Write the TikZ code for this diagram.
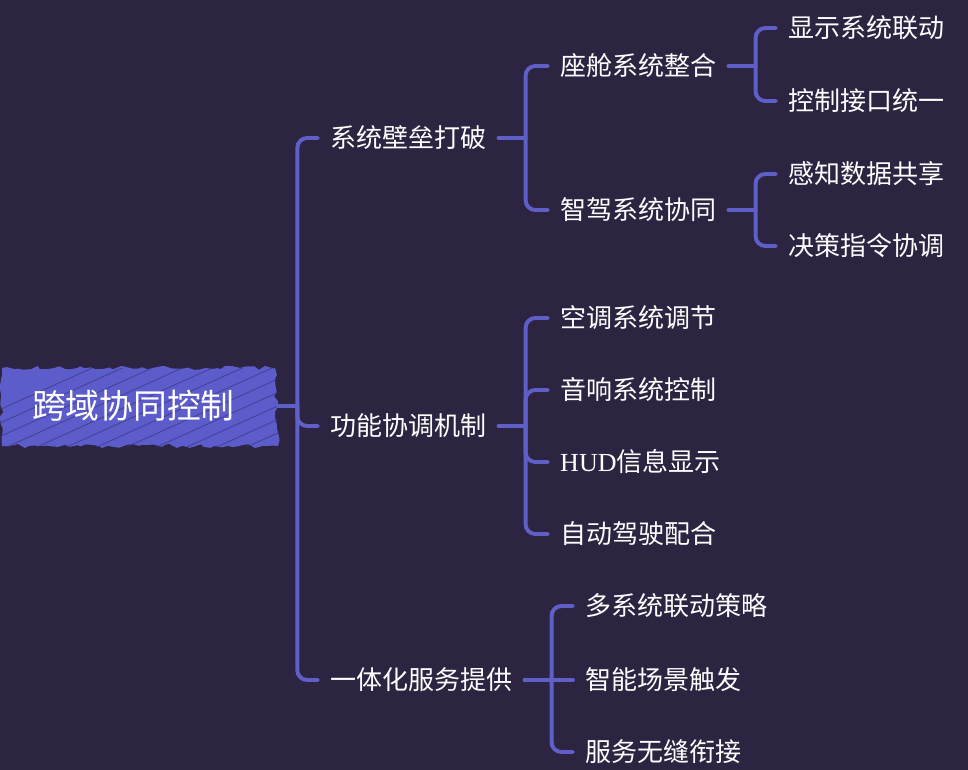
\documentclass[tikz,border=0pt]{standalone}
\usepackage{fontspec}
\setmainfont{Liberation Serif}
\newfontfamily\cjk{Noto Sans CJK SC}
\usepackage{tikz}
\usetikzlibrary{calc, backgrounds, decorations.pathmorphing}

\definecolor{bgpurple}{HTML}{2D2442}
\definecolor{linkblue}{HTML}{5F5FC8}
\definecolor{rootblue}{HTML}{5C5CCA}
\definecolor{hatchblue}{HTML}{3A3680}

\begin{document}
\begin{tikzpicture}[
			x=0.025cm, y=-0.025cm,
			topic/.style={anchor=west, inner xsep=8.5pt, inner ysep=2pt, text=white, font=\cjk\fontsize{18.5}{22}\selectfont},
			rootbox/.style={minimum width=6.95cm, minimum height=2.05cm, inner sep=0pt, text=white, font=\cjk\fontsize{24}{28}\selectfont},
			link/.style={draw=linkblue, line width=2.8pt, line cap=round},
			branch/.style={link, rounded corners=7pt},
			hatch/.style={draw=hatchblue, line width=0.6pt, opacity=0.7}
		]
		
		% Background
		\begin{scope}[on background layer]
			\fill[bgpurple] (0,0) rectangle (968,770);
		\end{scope}
		\useasboundingbox (0,0) rectangle (968,770);
		
		% Root
		\node[rootbox] (root) at (139,406) {\hspace*{-8pt}跨域协同控制};
		\begin{scope}[on background layer]
			\fill[rootblue, decorate, decoration={random steps, segment length=4pt, amplitude=1.6pt}]
				(2,368) -- (275,368) -- (278,446) -- (2,446) -- cycle;
			\begin{scope}
				\clip (0,368) rectangle (278,446);
				\foreach \i in {0,...,11}
					\draw[hatch] (\i*30-90,450) -- ++(200,-90);
			\end{scope}
		\end{scope}
		
		% Level 1
		\node[topic] (wall) at (318,138) {系统壁垒打破};
		\node[topic] (func) at (318,426) {功能协调机制};
		\node[topic] (serv) at (318,680) {一体化服务提供};
		
		% Level 2
		\node[topic] (cabin) at (548,66) {座舱系统整合};
		\node[topic] (adas) at (548,210) {智驾系统协同};
		\node[topic] (air) at (548,318) {空调系统调节};
		\node[topic] (audio) at (548,390) {音响系统控制};
		\node[topic] (hud) at (548,462) {{\rmfamily HUD}信息显示};
		\node[topic] (auto) at (548,534) {自动驾驶配合};
		\node[topic] (strat) at (573,606) {多系统联动策略};
		\node[topic] (scene) at (573,680) {智能场景触发};
		\node[topic] (seam) at (573,752) {服务无缝衔接};
		
		% Level 3
		\node[topic] (disp) at (776,28) {显示系统联动};
		\node[topic] (ctrl) at (776,101) {控制接口统一};
		\node[topic] (sense) at (776,174) {感知数据共享};
		\node[topic] (plan) at (776,246) {决策指令协调};
		
		% Junctions
		\coordinate (j0) at ($(root.east)+(19,0)$);
		\coordinate (j1) at ($(wall.east)+(27,0)$);
		\coordinate (j2) at ($(func.east)+(27,0)$);
		\coordinate (j3) at ($(serv.east)+(27,0)$);
		\coordinate (j4) at ($(cabin.east)+(27,0)$);
		\coordinate (j5) at ($(adas.east)+(27,0)$);
		
		% Connectors
		\draw[link] (root.east) -- (j0);
		\draw[branch] (j0) |- (wall.west);
		\draw[branch] (j0) |- (func.west);
		\draw[branch] (j0) |- (serv.west);
		
		\draw[link] (wall.east) -- (j1);
		\draw[branch] (j1) |- (cabin.west);
		\draw[branch] (j1) |- (adas.west);
		
		\draw[link] (func.east) -- (j2);
		\draw[branch] (j2) |- (air.west);
		\draw[branch] (j2) |- (audio.west);
		\draw[branch] (j2) |- (hud.west);
		\draw[branch] (j2) |- (auto.west);
		
		\draw[link] (serv.east) -- (j3);
		\draw[branch] (j3) |- (strat.west);
		\draw[branch] (j3) -- (scene.west);
		\draw[branch] (j3) |- (seam.west);
		
		\draw[link] (cabin.east) -- (j4);
		\draw[branch] (j4) |- (disp.west);
		\draw[branch] (j4) |- (ctrl.west);
		
		\draw[link] (adas.east) -- (j5);
		\draw[branch] (j5) |- (sense.west);
		\draw[branch] (j5) |- (plan.west);
		
\end{tikzpicture}
\end{document}
